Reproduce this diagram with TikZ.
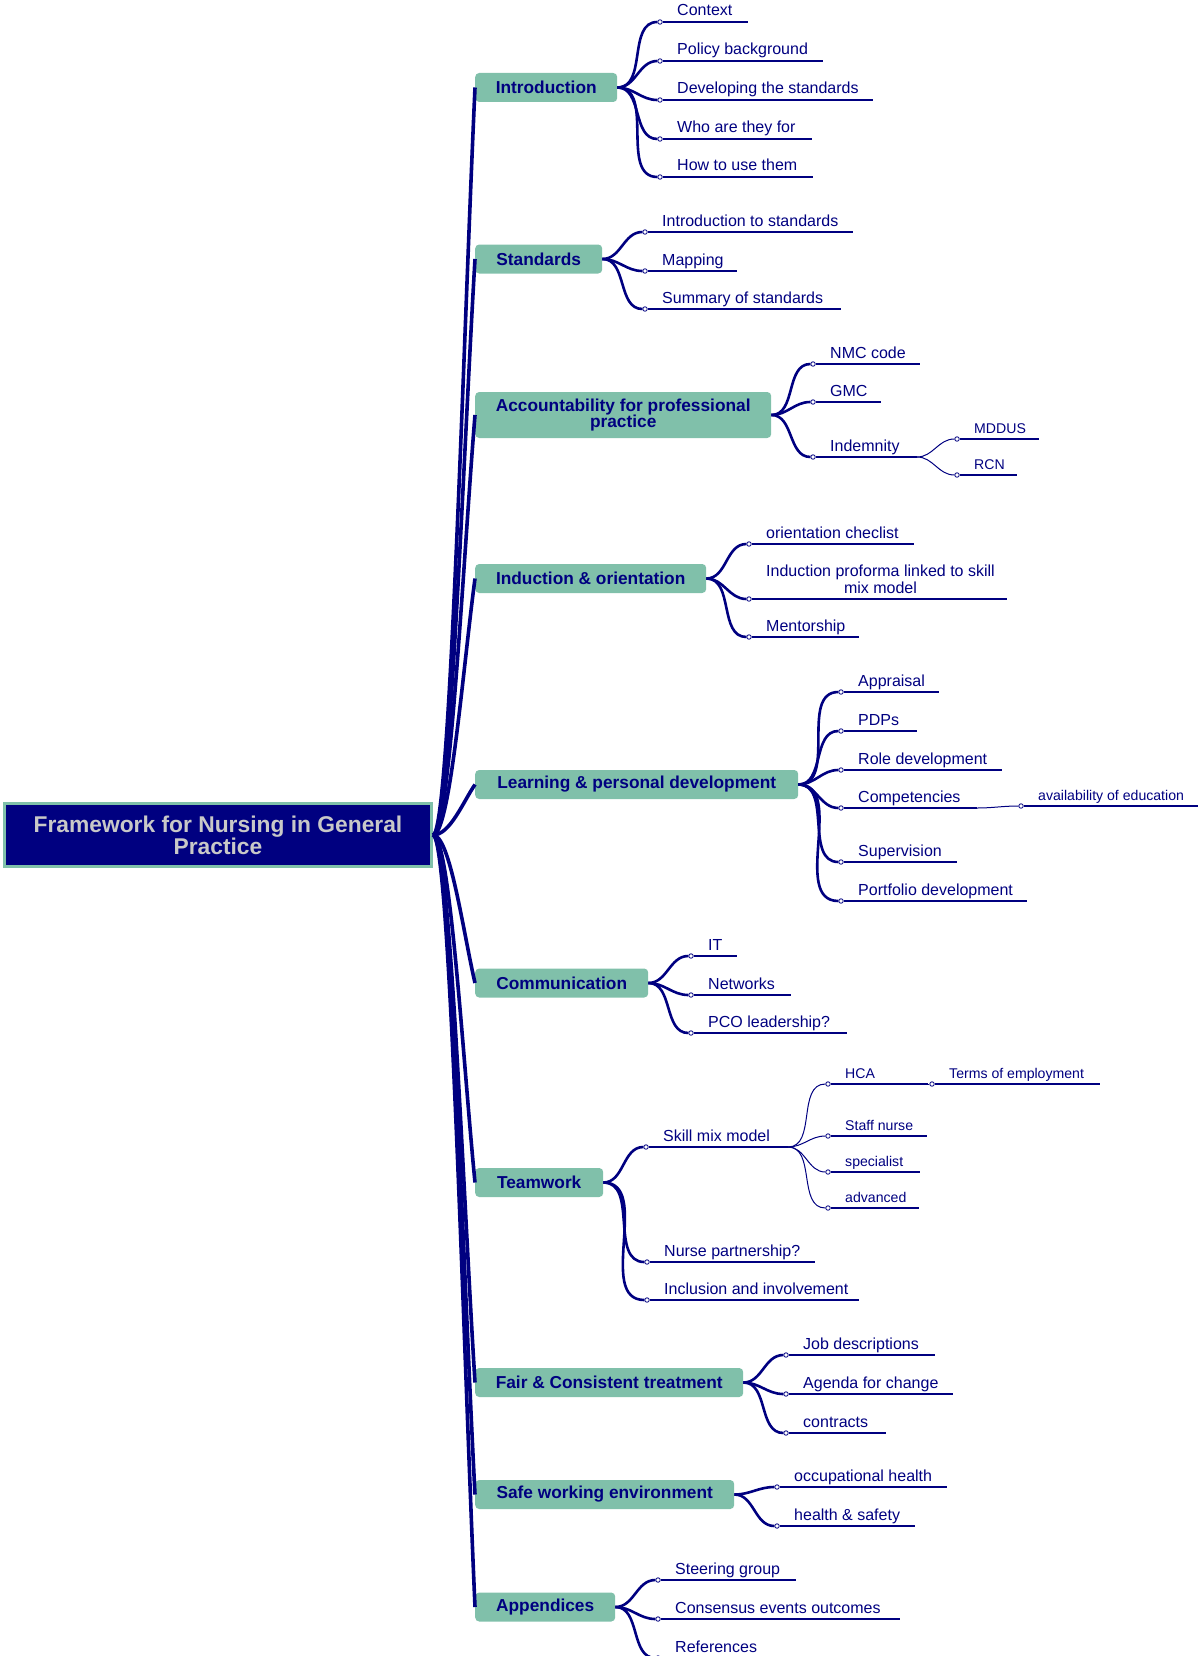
\documentclass[tikz,border=0pt]{standalone}
\usepackage{fontspec}
\setmainfont{Liberation Sans}
\definecolor{navy}{HTML}{000080}
\definecolor{mmteal}{HTML}{80C0AA}
\definecolor{rootgrey}{HTML}{C8C8C8}
\tikzset{
 mainbox/.style={fill=mmteal, rounded corners=4pt, minimum height=29pt, anchor=west, inner sep=0pt, text=navy, font=\fontsize{17.3}{16.7}\selectfont\bfseries, align=center},
 trunk/.style={draw=navy, line width=3.6pt},
 branch/.style={draw=navy, line width=2.6pt},
 twig/.style={draw=navy, line width=1pt},
 uline/.style={draw=navy, line width=1.3pt},
 dot/.style={circle, draw=navy, fill=white, line width=0.8pt, inner sep=0pt, minimum size=4.5pt},
 leaftext/.style={text=navy, inner sep=0pt, font=\fontsize{16}{17}\selectfont},
 smalltext/.style={text=navy, inner sep=0pt, font=\fontsize{14.1}{15}\selectfont},
}
\newcommand\leafitem[6][leaftext]{%
  \node[dot] (#2) at (#3,#4) {};
  \coordinate (#2e) at (#5,#4);
  \draw[uline] (#2.east) -- (#2e);
  \node[#1, anchor=base west] (#2t) at (#3+17,#4-6) {#6};
}
\begin{document}
\begin{tikzpicture}[x=1pt,y=-1pt]
\useasboundingbox (0,0) rectangle (1198,1656);
% root
\node[draw=mmteal, line width=3pt, fill=navy, minimum width=427pt, minimum height=63pt, text=rootgrey, align=center, inner sep=0pt, font=\fontsize{22.8}{22}\selectfont\bfseries] (root) at (218,835) {Framework for Nursing in General\\Practice};
% main nodes
\node[mainbox, minimum width=142pt] (intro) at (475,87.5) {Introduction};
\node[mainbox, minimum width=127pt] (stand) at (475,259) {Standards};
\node[mainbox, minimum width=296pt, minimum height=46pt] (acc) at (475,415) {Accountability for professional\\practice};
\node[mainbox, minimum width=231pt] (ind) at (475,578.5) {Induction \& orientation};
\node[mainbox, minimum width=323pt] (learn) at (475,784.5) {Learning \& personal development};
\node[mainbox, minimum width=173pt] (comm) at (475,983) {Communication};
\node[mainbox, minimum width=128pt] (team) at (475,1182.5) {Teamwork};
\node[mainbox, minimum width=268pt] (fair) at (475,1382.5) {Fair \& Consistent treatment};
\node[mainbox, minimum width=259pt] (safe) at (475,1494.5) {Safe working environment};
\node[mainbox, minimum width=140pt] (app) at (475,1607) {Appendices};
% trunk
\draw[trunk] (root.east) .. controls (450,835) and (463,349) .. (intro.west);
\draw[trunk] (root.east) .. controls (450,835) and (463,461) .. (stand.west);
\draw[trunk] (root.east) .. controls (450,835) and (463,562) .. (acc.west);
\draw[trunk] (root.east) .. controls (450,835) and (463,668) .. (ind.west);
\draw[trunk] (root.east) .. controls (450,835) and (463,802) .. (learn.west);
\draw[trunk] (root.east) .. controls (450,835) and (463,931) .. (comm.west);
\draw[trunk] (root.east) .. controls (450,835) and (463,1061) .. (team.west);
\draw[trunk] (root.east) .. controls (450,835) and (463,1191) .. (fair.west);
\draw[trunk] (root.east) .. controls (450,835) and (463,1264) .. (safe.west);
\draw[trunk] (root.east) .. controls (450,835) and (463,1337) .. (app.west);
% Introduction
\leafitem{i1}{660}{22}{748}{Context}
\leafitem{i2}{660}{61}{823}{Policy background}
\leafitem{i3}{660}{100}{873}{Developing the standards}
\leafitem{i4}{660}{139}{812}{Who are they for}
\leafitem{i5}{660}{177}{813}{How to use them}
\foreach \n in {i1,i2,i3,i4,i5} \draw[branch] (intro.east) to[out=0,in=180] (\n);
% Standards
\leafitem{s1}{645}{232}{853}{Introduction to standards}
\leafitem{s2}{645}{271}{737}{Mapping}
\leafitem{s3}{645}{309}{841}{Summary of standards}
\foreach \n in {s1,s2,s3} \draw[branch] (stand.east) to[out=0,in=180] (\n);
% Accountability
\leafitem{a1}{813}{364}{920}{NMC code}
\leafitem{a2}{813}{402}{881}{GMC}
\leafitem{a3}{813}{457}{917}{Indemnity}
\foreach \n in {a1,a2,a3} \draw[branch] (acc.east) to[out=0,in=180] (\n);
\leafitem[smalltext]{a31}{957}{439}{1039}{MDDUS}
\leafitem[smalltext]{a32}{957}{475}{1017}{RCN}
\foreach \n in {a31,a32} \draw[twig] (a3e) to[out=0,in=180] (\n);
% Induction
\leafitem{n1}{749}{544}{914}{orientation checlist}
\node[dot] (n2) at (749,599) {};
\coordinate (n2e) at (1007,599);
\draw[uline] (n2.east) -- (n2e);
\node[leaftext, anchor=south west, align=center] (n2t) at (766,594) {Induction proforma linked to skill\\mix model};
\leafitem{n3}{749}{637}{859}{Mentorship}
\foreach \n in {n1,n2,n3} \draw[branch] (ind.east) to[out=0,in=180] (\n);
% Learning
\leafitem{l1}{841}{692}{939}{Appraisal}
\leafitem{l2}{841}{731}{917}{PDPs}
\leafitem{l3}{841}{770}{1002}{Role development}
\leafitem{l4}{841}{808}{977}{Competencies}
\leafitem{l5}{841}{862}{957}{Supervision}
\leafitem{l6}{841}{901}{1027}{Portfolio development}
\foreach \n in {l1,l2,l3,l4,l5,l6} \draw[branch] (learn.east) to[out=0,in=180] (\n);
\leafitem[smalltext]{l41}{1021}{806}{1198}{availability of education}
\draw[twig] (l4e) to[out=0,in=180] (l41);
% Communication
\leafitem{c1}{691}{956}{737}{IT}
\leafitem{c2}{691}{995}{791}{Networks}
\leafitem{c3}{691}{1033}{847}{PCO leadership?}
\foreach \n in {c1,c2,c3} \draw[branch] (comm.east) to[out=0,in=180] (\n);
% Teamwork
\leafitem{t1}{646}{1147}{788}{Skill mix model}
\leafitem{t2}{647}{1262}{815}{Nurse partnership?}
\leafitem{t3}{647}{1300}{859}{Inclusion and involvement}
\foreach \n in {t1,t2,t3} \draw[branch] (team.east) to[out=0,in=180] (\n);
\leafitem[smalltext]{t11}{828}{1084}{928}{HCA}
\leafitem[smalltext]{t12}{828}{1136}{927}{Staff nurse}
\leafitem[smalltext]{t13}{828}{1172}{920}{specialist}
\leafitem[smalltext]{t14}{828}{1208}{919}{advanced}
\foreach \n in {t11,t12,t13,t14} \draw[twig] (t1e) to[out=0,in=180] (\n);
\leafitem[smalltext]{t111}{932}{1084}{1100}{Terms of employment}
\draw[twig] (t11e) -- (t111);
% Fair
\leafitem{f1}{786}{1355}{935}{Job descriptions}
\leafitem{f2}{786}{1394}{953}{Agenda for change}
\leafitem{f3}{786}{1433}{886}{contracts}
\foreach \n in {f1,f2,f3} \draw[branch] (fair.east) to[out=0,in=180] (\n);
% Safe
\leafitem{w1}{777}{1487}{947}{occupational health}
\leafitem{w2}{777}{1526}{915}{health \& safety}
\foreach \n in {w1,w2} \draw[branch] (safe.east) to[out=0,in=180] (\n);
% Appendices
\leafitem{p1}{658}{1580}{796}{Steering group}
\leafitem{p2}{658}{1619}{900}{Consensus events outcomes}
\leafitem{p3}{658}{1658}{800}{References}
\foreach \n in {p1,p2,p3} \draw[branch] (app.east) to[out=0,in=180] (\n);
\end{tikzpicture}
\end{document}
